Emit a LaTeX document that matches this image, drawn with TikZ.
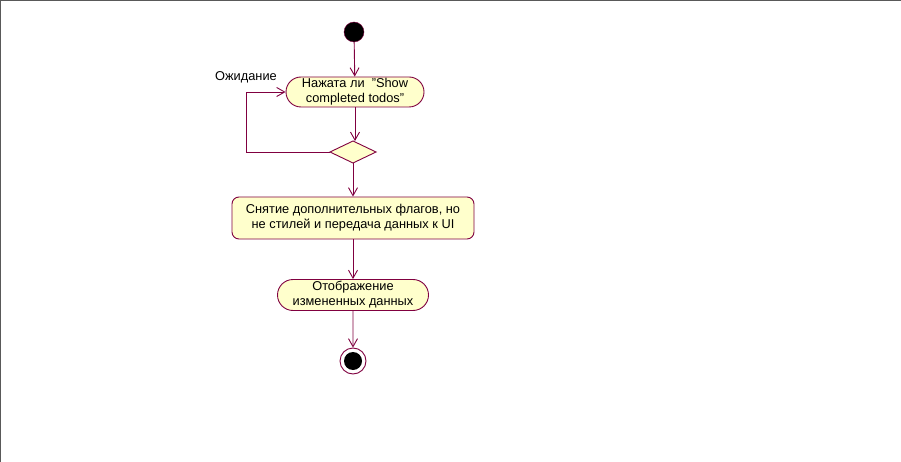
\documentclass[tikz,border=0pt]{standalone}
\usepackage{fontspec}
\setmainfont{Liberation Sans}
\usetikzlibrary{arrows.meta,shapes.misc}

\definecolor{roseline}{RGB}{128,0,64}
\definecolor{rosefill}{RGB}{255,255,204}

\tikzset{
  flow/.style={draw=roseline, line width=0.9pt, -{Straight Barb[length=8pt,width=9pt]}},
  actstate/.style={rounded rectangle, draw=roseline, fill=rosefill, line width=0.9pt, align=center, inner xsep=4pt, inner ysep=1pt},
  actbox/.style={rectangle, rounded corners=7pt, draw=roseline, fill=rosefill, line width=0.9pt, align=center}
}

\begin{document}
\begin{tikzpicture}[x=1pt, y=-1pt, every node/.style={font=\fontsize{12.8}{15}\selectfont}]

    % Frame
    \useasboundingbox (0,0) rectangle (901,462);
    \fill[white] (0,0) rectangle (901,462);
    \draw[gray!70!black, line width=1.5pt] (0,462) -- (0,0) -- (901,0);

    % Start
    \node[circle, fill=black, draw=roseline, minimum size=20pt, inner sep=0pt] (start) at (354,32) {};

    % Button pressed?
    \node[actstate, minimum width=146pt, minimum height=30pt] (pressed) at (355,92)
        {Нажата ли\ \ "Show\\completed todos"};

    % Decision
    \draw[roseline, fill=rosefill, line width=0.9pt] (330,152) -- (353,141) -- (376,152) -- (353,163) -- cycle;
    \coordinate (decN) at (353,141);
    \coordinate (decS) at (353,163);
    \coordinate (decW) at (330,152);

    % Processing
    \node[actbox, minimum width=242pt, minimum height=42pt] (strip) at (353,218)
        {Снятие дополнительных флагов, но\\не стилей и передача данных к UI};

    % Show data
    \node[actstate, minimum width=159pt, minimum height=31pt] (show) at (353,295)
        {Отображение\\измененных данных};

    % End
    \node[circle, draw=roseline, fill=white, line width=0.9pt, minimum size=26pt, inner sep=0pt] (finish) at (353,361) {};
    \fill[black] (finish.center) circle (9pt);

    % Flows
    \draw[flow] (start) -- (pressed);
    \draw[flow] (pressed.south) -- (pressed.south |- decN);
    \draw[flow] (decS) -- (strip.north -| decS);
    \draw[flow] (strip) -- (show);
    \draw[flow] (show) -- (finish);

    % Waiting loop
    \coordinate (loop) at (246,152);
    \draw[flow] (decW) -- (loop) |- (pressed.west);
    \node (wait) at (246,77) {Ожидание};

\end{tikzpicture}
\end{document}
